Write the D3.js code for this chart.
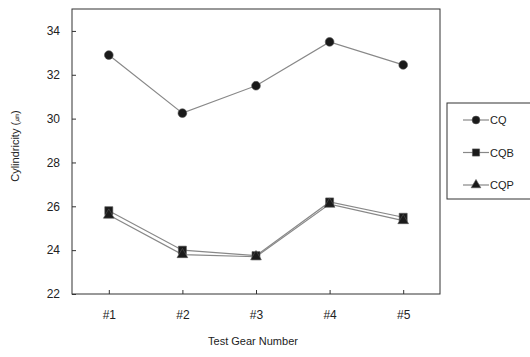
<!DOCTYPE html>
<html>
<head>
<meta charset="utf-8">
<script src="https://cdn.jsdelivr.net/npm/d3@7"></script>
<style>
  body { margin: 0; background: #fff; }
  svg text { font-family: "Liberation Sans", Arial, sans-serif; fill: #222; }
</style>
</head>
<body>
<svg id="chart" width="530" height="357"></svg>
<script>
// Test gears and measured cylindricity (µm) for each finishing process
const gears = ["#1", "#2", "#3", "#4", "#5"];
const cq  = [32.9, 30.25, 31.5, 33.5, 32.45];
const cqb = [25.8, 24.0, 23.75, 26.2, 25.5];
const cqp = [25.6, 23.8, 23.7, 26.1, 25.35];
const yTicks = [22, 24, 26, 28, 30, 32, 34];
const seriesNames = ["CQ", "CQB", "CQP"];

const series = [
  { name: seriesNames[0], values: cq,  shape: d3.symbolCircle,   size: 60 },
  { name: seriesNames[1], values: cqb, shape: d3.symbolSquare,   size: 64 },
  { name: seriesNames[2], values: cqp, shape: d3.symbolTriangle, size: 50 }
];

const svg = d3.select("#chart");
const m = { left: 72, top: 9, right: 440, bottom: 294 };

const x = d3.scalePoint().domain(gears).range([m.left, m.right]).padding(0.5);
const y = d3.scaleLinear().domain([22, 35]).range([m.bottom, m.top]);

// Plot frame
svg.append("rect")
  .attr("x", m.left).attr("y", m.top)
  .attr("width", m.right - m.left).attr("height", m.bottom - m.top)
  .attr("fill", "none").attr("stroke", "#333").attr("stroke-width", 1);

// Y axis with inward ticks
const yAxis = svg.append("g").attr("transform", `translate(${m.left},0)`)
  .call(d3.axisLeft(y).tickValues(yTicks).tickSizeInner(-4).tickSizeOuter(0).tickPadding(12));
yAxis.select(".domain").remove();
yAxis.selectAll("line").attr("stroke", "#333");
yAxis.selectAll("text").attr("font-size", 12).attr("fill", "#222");

// X axis with inward ticks
const xAxis = svg.append("g").attr("transform", `translate(0,${m.bottom})`)
  .call(d3.axisBottom(x).tickSizeInner(-4).tickSizeOuter(0).tickPadding(16));
xAxis.select(".domain").remove();
xAxis.selectAll("line").attr("stroke", "#333");
xAxis.selectAll("text").attr("font-size", 12).attr("fill", "#222");

// Axis titles
svg.append("text")
  .attr("x", 253).attr("y", 345)
  .attr("text-anchor", "middle").attr("font-size", 11)
  .text("Test Gear Number");

const yt = svg.append("text")
  .attr("transform", "translate(19,146) rotate(-90)")
  .attr("text-anchor", "middle").attr("font-size", 11);
yt.append("tspan").text("Cylindricity (");
yt.append("tspan").attr("font-size", 8).text("㎛");
yt.append("tspan").text(")");

// Series lines and markers
const line = d3.line().x((d, i) => x(gears[i])).y(d => y(d));

series.forEach(s => {
  svg.append("path")
    .attr("d", line(s.values))
    .attr("fill", "none").attr("stroke", "#888").attr("stroke-width", 1.2);
});
series.forEach(s => {
  svg.append("g").selectAll("path")
    .data(s.values)
    .join("path")
    .attr("transform", (d, i) => `translate(${x(gears[i])},${y(d)})`)
    .attr("d", d3.symbol().type(s.shape).size(s.size))
    .attr("fill", "#1a1a1a").attr("stroke", "#555").attr("stroke-width", 0.6);
});

// Legend
const lg = svg.append("g");
lg.append("rect")
  .attr("x", 447).attr("y", 103).attr("width", 90).attr("height", 96)
  .attr("fill", "#fff").attr("stroke", "#333").attr("stroke-width", 1);
series.forEach((s, i) => {
  const yy = 120 + i * 32.5;
  lg.append("line")
    .attr("x1", 463).attr("x2", 489).attr("y1", yy).attr("y2", yy)
    .attr("stroke", "#888").attr("stroke-width", 1.2);
  lg.append("path")
    .attr("transform", `translate(476,${yy})`)
    .attr("d", d3.symbol().type(s.shape).size(s.size * 0.8))
    .attr("fill", "#1a1a1a").attr("stroke", "#555").attr("stroke-width", 0.6);
  lg.append("text")
    .attr("x", 490).attr("y", yy + 4)
    .attr("font-size", 11)
    .text(s.name);
});
</script>
</body>
</html>
